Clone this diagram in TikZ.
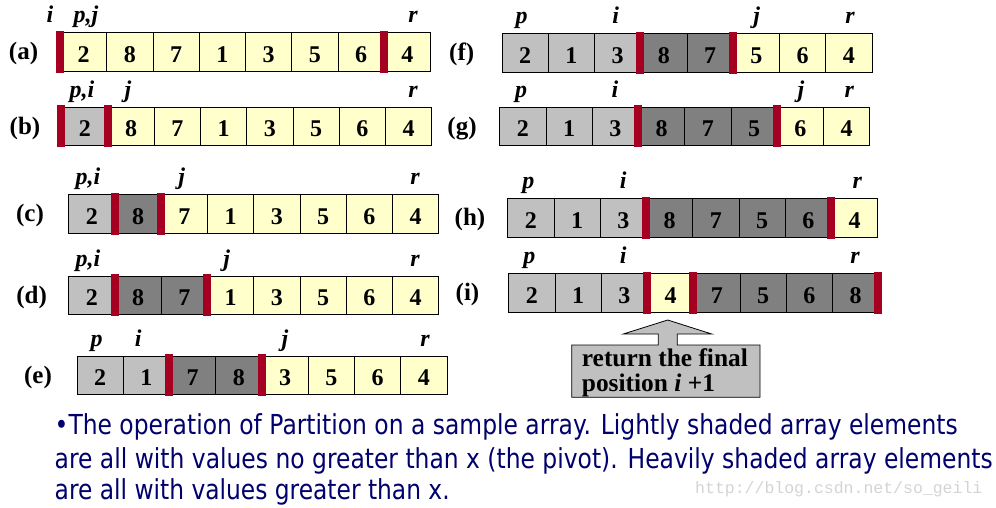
\documentclass[tikz,border=0pt]{standalone}
\usepackage{fontspec}
\setmainfont{Liberation Serif}
\newfontfamily\capfont{DejaVu Sans}
\newfontfamily\wmfontfam{Liberation Mono}
\definecolor{yellowc}{HTML}{FFFFCC}
\definecolor{lightc}{HTML}{C0C0C0}
\definecolor{darkc}{HTML}{808080}
\definecolor{barred}{HTML}{A50021}
\definecolor{capblue}{RGB}{0,0,110}
\definecolor{wmgray}{HTML}{D4D4D4}
\newlength\fitw
\newcommand\fitto[2]{\settowidth\fitw{#2}\pgfmathsetmacro\fitr{#1/\fitw}\scalebox{\fitr}[1]{#2}}
\newcommand\drawrow[5]{%
  \foreach \cl/\vl [count=\k from 0] in {#4} {\node[c\cl] (#1\k) at ({#2+\k*46.25},#3) {\vl};}
  \foreach \b in {#5} {\node[redbar] (#1bar\b) at ({#2+\b*46.25},{#3-1.5}) {};}
}
\newcommand\ptrs[3]{%
  \foreach \px/\pt [count=\k] in {#3} {\node[ptr] (#1ptr\k) at (\px,#2) {\pt};}
}
\begin{document}
\begin{tikzpicture}[x=1pt,y=-1pt,
  cellbox/.style={draw=black, line width=0.8pt, minimum width=46.25pt, minimum height=38.5pt,
    inner sep=0pt, anchor=north west, text height=21pt, text depth=0pt,
    font=\fontsize{24}{24}\selectfont\bfseries},
  cY/.style={cellbox, fill=yellowc},
  cL/.style={cellbox, fill=lightc},
  cD/.style={cellbox, fill=darkc},
  redbar/.style={fill=barred, draw=none, minimum width=8pt, minimum height=41.5pt, inner sep=0pt, anchor=north},
  ptr/.style={font=\fontsize{24}{24}\selectfont\bfseries\itshape, anchor=base, inner sep=0pt},
  rowlab/.style={font=\fontsize{25}{25}\selectfont\bfseries, anchor=base, inner sep=0pt},
  capline/.style={font=\capfont\fontsize{27.5}{27.5}\selectfont, text=capblue, anchor=base west, inner sep=0pt},
  calltext/.style={font=\fontsize{25.4}{25.4}\selectfont\bfseries, anchor=base west, inner sep=0pt},
  callout/.style={fill=lightc, draw=black, line width=0.8pt}
]
\fill[white] (0,0) rectangle (996,507);
\useasboundingbox (0,0) rectangle (996,507);

% arrays
\drawrow{a}{60}{32.3}{Y/2,Y/8,Y/7,Y/1,Y/3,Y/5,Y/6,Y/4}{0,7}
\drawrow{b}{61.3}{106.7}{L/2,Y/8,Y/7,Y/1,Y/3,Y/5,Y/6,Y/4}{0,1}
\drawrow{c}{68.3}{194.3}{L/2,D/8,Y/7,Y/1,Y/3,Y/5,Y/6,Y/4}{1,2}
\drawrow{d}{68.3}{275.7}{L/2,D/8,D/7,Y/1,Y/3,Y/5,Y/6,Y/4}{1,3}
\drawrow{e}{76.7}{355.7}{L/2,L/1,D/7,D/8,Y/3,Y/5,Y/6,Y/4}{2,4}
\drawrow{f}{501.7}{33.3}{L/2,L/1,L/3,D/8,D/7,Y/5,Y/6,Y/4}{3,5}
\drawrow{g}{499.3}{106.7}{L/2,L/1,L/3,D/8,D/7,D/5,Y/6,Y/4}{3,6}
\drawrow{h}{507.3}{198.3}{L/2,L/1,L/3,D/8,D/7,D/5,D/6,Y/4}{3,7}
\drawrow{i}{508.3}{273.3}{L/2,L/1,L/3,Y/4,D/7,D/5,D/6,D/8}{3,4,8}

% row labels
\node[rowlab] (labA) at (23.5,59.5) {(a)};
\node[rowlab] (labB) at (25,134) {(b)};
\node[rowlab] (labC) at (30,221.5) {(c)};
\node[rowlab] (labD) at (31.7,303) {(d)};
\node[rowlab] (labE) at (38,383) {(e)};
\node[rowlab] (labF) at (461.7,60.5) {(f)};
\node[rowlab] (labG) at (462,134) {(g)};
\node[rowlab] (labH) at (470,225.5) {(h)};
\node[rowlab] (labI) at (467.5,300.5) {(i)};

% pointer labels
\ptrs{a}{22.8}{50/i, 86/{p,j}, 413/r}
\ptrs{b}{97.2}{82/{p,i}, 128/j, 413/r}
\ptrs{c}{184.8}{88/{p,i}, 181.7/j, 415/r}
\ptrs{d}{266.2}{88/{p,i}, 226.7/j, 415/r}
\ptrs{e}{346.2}{96.7/p, 138.3/i, 285/j, 425/r}
\ptrs{f}{23.8}{521.7/p, 615.7/i, 756.7/j, 850/r}
\ptrs{g}{97.2}{521/p, 615/i, 801/j, 849.3/r}
\ptrs{h}{188.8}{528.3/p, 623.3/i, 857.3/r}
\ptrs{i}{263.8}{529.3/p, 623.3/i, 855/r}

% callout
\draw[callout] (571.7,345) -- (658.3,345) -- (658.3,334) -- (623.3,334) -- (667.7,320)
  -- (711.7,334) -- (677.3,334) -- (677.3,345) -- (760,345) -- (760,397.3) -- (571.7,397.3) -- cycle;
\node[calltext] (ret1) at (581.7,366.7) {return the final};
\node[calltext] (ret2) at (581.7,391.7) {position \textit{i} +1};

% caption
\node[capline] (cap1) at (54.5,434.3) {\fitto{903}{\textbullet The operation of Partition on a sample array. Lightly shaded array elements}};
\node[capline] (cap2) at (54.5,468) {\fitto{938}{are all with values no greater than x (the pivot). Heavily shaded array elements}};
\node[capline] (cap3) at (54.5,499) {\fitto{395}{are all with values greater than x.}};

% watermark
\node[font=\wmfontfam\fontsize{16.5}{16.5}\selectfont, text=wmgray, anchor=base west, inner sep=0pt] (wm) at (695,493) {http://blog.csdn.net/so\_geili};
\end{tikzpicture}
\end{document}
